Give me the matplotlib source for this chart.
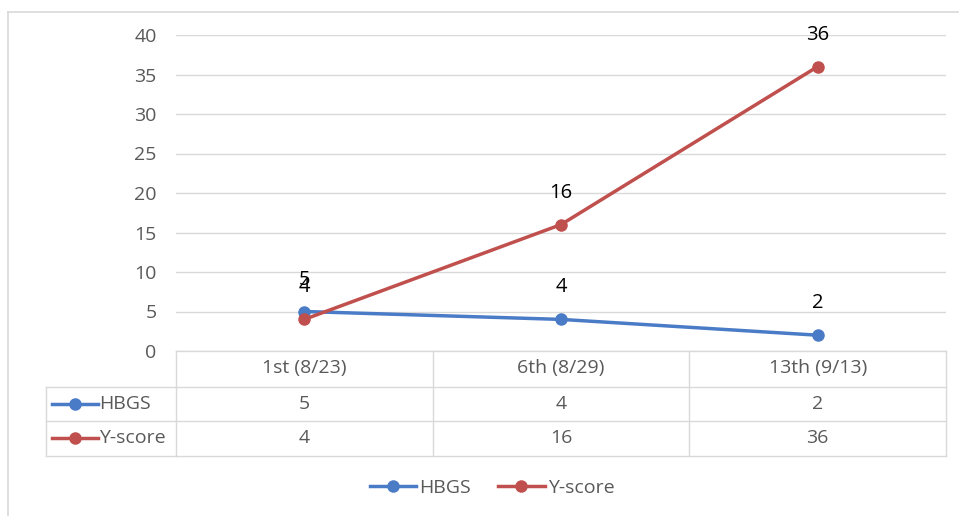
import matplotlib.pyplot as plt
import matplotlib.transforms as mtransforms
from matplotlib.lines import Line2D

plt.rcParams['font.family'] = ['Open Sans', 'DejaVu Sans']

# Data
categories = ["1st (8/23)", "6th (8/29)", "13th (9/13)"]
series_names = ["HBGS", "Y-score"]
hbgs = [5, 4, 2]
yscore = [4, 16, 36]
yticks = [0, 5, 10, 15, 20, 25, 30, 35, 40]

colors = ["#4A7BC6", "#C0504D"]
grid_c = "#D9D9D9"
text_c = "#595959"

W, H = 959, 516


def fx(px):
    return px / W


def fy(py):
    return 1 - py / H


fig = plt.figure(figsize=(W / 100, H / 100), dpi=100)
ax = fig.add_axes([fx(176), fy(351), fx(946) - fx(176), fy(35) - fy(351)])

xs = list(range(len(categories)))
lines = []
for vals, name, c in zip([hbgs, yscore], series_names, colors):
    ln, = ax.plot(xs, vals, color=c, lw=2.5, marker="o", markersize=8,
                  label=name, zorder=3, clip_on=False)
    lines.append(ln)
    for x, v in zip(xs, vals):
        ax.annotate(str(v), (x, v), xytext=(0, 23), textcoords="offset points",
                    ha="center", va="center", fontsize=14.5, color="black")

ax.set_xlim(-0.5, len(categories) - 0.5)
ax.set_ylim(0, 40)
ax.set_yticks(yticks)
ax.set_xticks([])
ax.grid(axis="y", color=grid_c, lw=1)
ax.set_axisbelow(True)
for s in ax.spines.values():
    s.set_visible(False)
ax.tick_params(axis="y", length=0, pad=14, labelsize=14, labelcolor=text_c)

# Data table under the plot
tr = mtransforms.blended_transform_factory(ax.transData, fig.transFigure)
row_edges = [351, 386.5, 421, 455.5]
col_edges = [x - 0.5 for x in xs] + [xs[-1] + 0.5]
for i, py in enumerate(row_edges):
    fig.add_artist(Line2D([col_edges[0], col_edges[-1]], [fy(py), fy(py)],
                          transform=tr, color=grid_c, lw=1))
    if i > 0:
        fig.add_artist(Line2D([fx(46), fx(176)], [fy(py), fy(py)],
                              color=grid_c, lw=1))
for cx in col_edges:
    fig.add_artist(Line2D([cx, cx], [fy(row_edges[0]), fy(row_edges[-1])],
                          transform=tr, color=grid_c, lw=1))
fig.add_artist(Line2D([fx(46), fx(46)], [fy(row_edges[1]), fy(row_edges[-1])],
                      color=grid_c, lw=1))

for x, cat in zip(xs, categories):
    fig.text(x, fy(368), cat, transform=tr, ha="center", va="center",
             fontsize=14, color=text_c)

for r, (vals, name, c) in enumerate(zip([hbgs, yscore], series_names, colors)):
    yc = fy((row_edges[r + 1] + row_edges[r + 2]) / 2)
    fig.add_artist(Line2D([fx(52), fx(98)], [yc, yc], color=c, lw=2.5))
    fig.add_artist(Line2D([fx(75)], [yc], color=c, marker="o", markersize=8))
    fig.text(fx(99), yc, name, ha="left", va="center", fontsize=14, color=text_c)
    for x, v in zip(xs, vals):
        fig.text(x, yc, str(v), transform=tr, ha="center", va="center",
                 fontsize=14, color=text_c)

# Legend
leg = fig.legend(handles=lines, loc="center", bbox_to_anchor=(fx(492), fy(488)),
                 ncol=2, frameon=False, fontsize=14, handlelength=2.4,
                 handletextpad=0.15, columnspacing=1.4)
for t in leg.get_texts():
    t.set_color(text_c)

# Outer chart border
fig.add_artist(Line2D([fx(8), fx(8)], [fy(12), 0], color=grid_c, lw=1.2))
fig.add_artist(Line2D([fx(8), 1], [fy(12), fy(12)], color=grid_c, lw=1.2))

fig.savefig("out.png", dpi=100)
